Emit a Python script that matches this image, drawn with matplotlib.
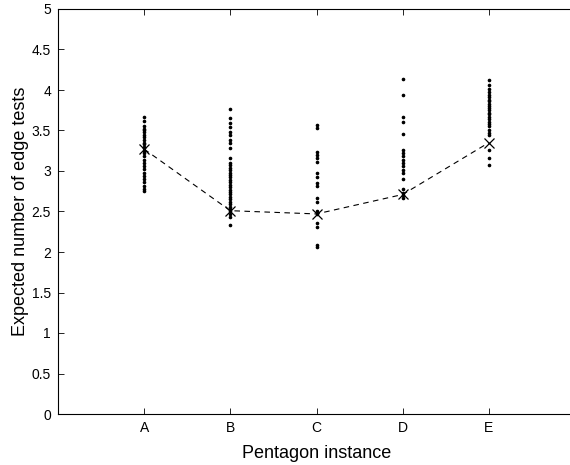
import matplotlib
matplotlib.use('Agg')
import matplotlib.pyplot as plt

plt.rcParams['font.family'] = ['Liberation Sans', 'DejaVu Sans']

# category labels and positions
instances = ['A', 'B', 'C', 'D', 'E']
positions = [1, 2, 3, 4, 5]

# individual expected edge-test values per instance
vals_a = [3.67, 3.62, 3.55, 3.52, 3.50, 3.48, 3.45, 3.42, 3.38, 3.35, 3.33, 3.30,
          3.28, 3.25, 3.22, 3.18, 3.14, 3.10, 3.06, 3.02, 2.98, 2.94, 2.90, 2.86,
          2.82, 2.78, 2.75]
vals_b = [3.76, 3.65, 3.59, 3.54, 3.48, 3.44, 3.38, 3.35, 3.28, 3.16, 3.10, 3.07,
          3.04, 3.01, 2.98, 2.95, 2.92, 2.89, 2.86, 2.83, 2.80, 2.77, 2.74, 2.71,
          2.68, 2.65, 2.62, 2.59, 2.56, 2.53, 2.50, 2.47, 2.43, 2.33]
vals_c = [3.57, 3.53, 3.23, 3.20, 3.16, 3.11, 2.98, 2.93, 2.85, 2.81, 2.67, 2.62,
          2.50, 2.47, 2.36, 2.31, 2.09, 2.06]
vals_d = [4.14, 3.94, 3.67, 3.60, 3.46, 3.26, 3.22, 3.18, 3.14, 3.10, 3.06, 3.01,
          2.97, 2.90, 2.78, 2.73, 2.70, 2.67]
vals_e = [4.12, 4.06, 4.01, 3.97, 3.94, 3.91, 3.88, 3.86, 3.83, 3.80, 3.78, 3.75,
          3.72, 3.70, 3.67, 3.64, 3.61, 3.58, 3.55, 3.51, 3.47, 3.44, 3.26, 3.16,
          3.08]
all_vals = [vals_a, vals_b, vals_c, vals_d, vals_e]

# mean value per instance (the x markers)
means = [3.27, 2.51, 2.47, 2.71, 3.35]

fig = plt.figure(figsize=(5.7, 4.65), dpi=100)
ax = fig.add_axes([58 / 570, 51 / 465, 517 / 570, 405 / 465])

for x, vals in zip(positions, all_vals):
    ax.plot([x] * len(vals), vals, 'k.', markersize=3.2, linestyle='none')

ax.plot(positions, means, 'k--', linewidth=0.8, dashes=(5, 4))
ax.plot(positions, means, 'kx', markersize=7, markeredgewidth=0.9, linestyle='none')

ax.set_xlim(0, 6)
ax.set_ylim(0, 5)
ax.set_xticks(positions)
ax.set_xticklabels(instances)
ax.set_yticks([0, 0.5, 1, 1.5, 2, 2.5, 3, 3.5, 4, 4.5, 5])
ax.set_yticklabels(['0', '0.5', '1', '1.5', '2', '2.5', '3', '3.5', '4', '4.5', '5'])
ax.tick_params(direction='in', length=4, width=0.6, labelsize=10, top=True, right=False,
               pad=5)
ax.spines['right'].set_visible(False)
for s in ax.spines.values():
    s.set_linewidth(0.8)

ax.set_xlabel('Pentagon instance', fontsize=13, labelpad=7.5)
ax.set_ylabel('Expected number of edge tests', fontsize=13, labelpad=2)

plt.savefig('out.png', dpi=100)
